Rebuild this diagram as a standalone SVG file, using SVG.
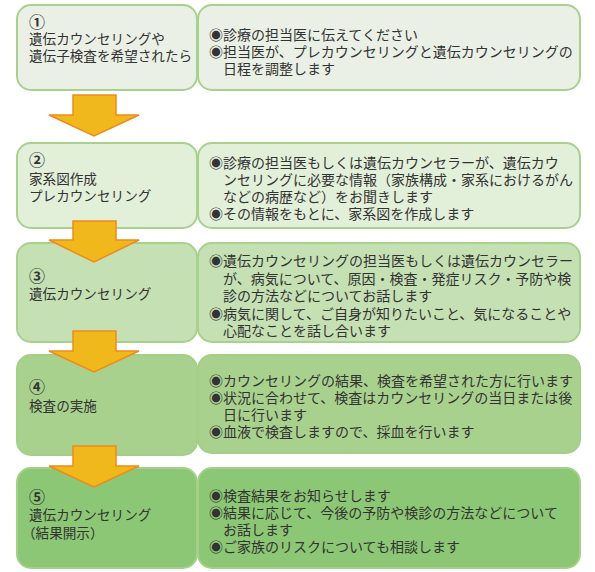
<svg xmlns="http://www.w3.org/2000/svg" width="595" height="572" viewBox="0 0 595 572">
<style>
text{font-family:"Noto Sans CJK JP","Noto Sans",sans-serif;fill:#333333;font-size:13.6px}
.d{font-size:14px}
.num{font-size:16px;font-weight:bold}
.box{stroke-width:2}
.s1{fill:#eaf0e5;stroke:#a9d18e}
.s2{fill:#e2efd9;stroke:#a9d18e}
.s3{fill:#c5e0b3;stroke:#a9d18e}
.s4{fill:#a9d18e;stroke:#a5cf89}
.s5{fill:#8cc775;stroke:#a4d08a}
.arrow{fill:#f1b81c;stroke:#ee8b1c;stroke-width:1.5;stroke-linejoin:miter}
</style>
<rect width="595" height="572" fill="#ffffff"/>

<g id="step1">
<rect class="box s1" x="17" y="5" width="180" height="85" rx="14"/>
<text class="num" x="29" y="28">①</text>
<text x="29" y="44">遺伝カウンセリングや</text>
<text x="29" y="61">遺伝子検査を希望されたら</text>
</g>
<g id="detail1">
<rect class="box s1" x="198" y="5" width="382" height="85" rx="14"/>
<text class="d" x="209" y="40">◉診療の担当医に伝えてください</text>
<text class="d" x="209" y="57">◉担当医が、プレカウンセリングと遺伝カウンセリングの</text>
<text class="d" x="223" y="74">日程を調整します</text>
</g>

<g id="step2">
<rect class="box s2" x="17" y="143" width="180" height="85" rx="14"/>
<text class="num" x="29" y="166">②</text>
<text x="29" y="184">家系図作成</text>
<text x="29" y="201">プレカウンセリング</text>
</g>
<g id="detail2">
<rect class="box s2" x="198" y="143" width="382" height="85" rx="14"/>
<text class="d" x="209" y="168">◉診療の担当医もしくは遺伝カウンセラーが、遺伝カウ</text>
<text class="d" x="223" y="185">ンセリングに必要な情報（家族構成・家系におけるがん</text>
<text class="d" x="223" y="202">などの病歴など）をお聞きします</text>
<text class="d" x="209" y="219">◉その情報をもとに、家系図を作成します</text>
</g>

<g id="step3">
<rect class="box s3" x="17" y="243" width="180" height="99" rx="14"/>
<text class="num" x="29" y="282">③</text>
<text x="29" y="299">遺伝カウンセリング</text>
</g>
<g id="detail3">
<rect class="box s3" x="198" y="243" width="382" height="99" rx="14"/>
<text class="d" x="209" y="266">◉遺伝カウンセリングの担当医もしくは遺伝カウンセラー</text>
<text class="d" x="223" y="284">が、病気について、原因・検査・発症リスク・予防や検</text>
<text class="d" x="223" y="301">診の方法などについてお話します</text>
<text class="d" x="209" y="319">◉病気に関して、ご自身が知りたいこと、気になることや</text>
<text class="d" x="223" y="336">心配なことを話し合います</text>
</g>

<g id="step4">
<rect class="box s4" x="17" y="355" width="180" height="100" rx="14"/>
<text class="num" x="29" y="393">④</text>
<text x="29" y="411">検査の実施</text>
</g>
<g id="detail4">
<rect class="box s4" x="198" y="355" width="382" height="98" rx="14"/>
<text class="d" x="209" y="386">◉カウンセリングの結果、検査を希望された方に行います</text>
<text class="d" x="209" y="403">◉状況に合わせて、検査はカウンセリングの当日または後</text>
<text class="d" x="223" y="420">日に行います</text>
<text class="d" x="209" y="437">◉血液で検査しますので、採血を行います</text>
</g>

<g id="step5">
<rect class="box s5" x="17" y="468" width="180" height="100" rx="14"/>
<text class="num" x="29" y="503">⑤</text>
<text x="29" y="520">遺伝カウンセリング</text>
<text x="22" y="538">（結果開示）</text>
</g>
<g id="detail5">
<rect class="box s5" x="198" y="468" width="382" height="100" rx="14"/>
<text class="d" x="209" y="501">◉検査結果をお知らせします</text>
<text class="d" x="209" y="518">◉結果に応じて、今後の予防や検診の方法などについて</text>
<text class="d" x="223" y="535">お話します</text>
<text class="d" x="209" y="552">◉ご家族のリスクについても相談します</text>
</g>

<g id="connectors">
<path class="arrow" d="M73,95 H116 V115 H139 L94,136 L49,115 H73 Z"/>
<path class="arrow" d="M73,221 H116 V240 H139 L94,262 L49,240 H73 Z"/>
<path class="arrow" d="M73,331 H116 V351 H139 L94,372 L49,351 H73 Z"/>
<path class="arrow" d="M73,446 H116 V466 H139 L94,487 L49,466 H73 Z"/>
</g>
</svg>
